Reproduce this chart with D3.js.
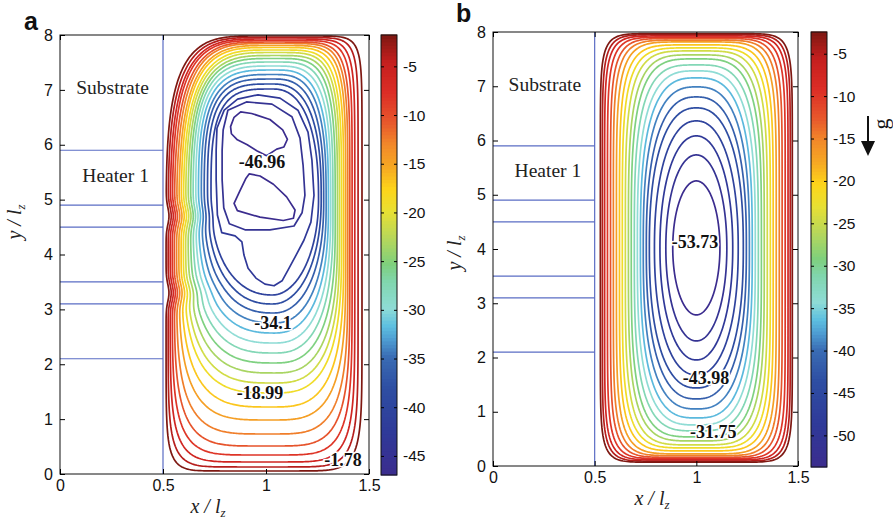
<!DOCTYPE html>
<html>
<head>
<meta charset="utf-8">
<script src="https://cdn.jsdelivr.net/npm/d3@7"></script>
<style>
  body { margin: 0; background: #fff; }
  svg { display: block; }
  .tick text { font-family: "Liberation Sans", Arial, sans-serif; fill: #111; }
</style>
</head>
<body>
<svg id="chart" width="893" height="531"></svg>
<script>
// ---------- data ----------
const xTicks = [0, 0.5, 1, 1.5];
const yTicks = [0, 1, 2, 3, 4, 5, 6, 7, 8];
const heaterEdges = [2.1, 3.1, 3.5, 4.5, 4.9, 5.9]; // y of the heater / substrate boundaries
const heaterGaps = [[3.1, 3.5], [4.5, 4.9]];
const regionNames = ["Substrate", "Heater 1"];
const regionX = [0.255, 0.27];
const regionY = [6.92, 5.32];

// panel a: 22 stream function levels
const aLevels = [-46.96, -44.81, -42.66, -40.51, -38.35, -36.2, -34.05, -31.9, -29.75, -27.6, -25.45,
  -23.29, -21.14, -18.99, -16.84, -14.69, -12.54, -10.39, -8.23, -6.08, -3.93, -1.78];
const aColorTicks = [-5, -10, -15, -20, -25, -30, -35, -40, -45];

// innermost contours of panel a, vertices in (x/lz, y/lz)
const aUpperLobe = [[0.828, 6.33], [0.845, 6.5], [0.877, 6.6], [0.93, 6.57], [1.019, 6.46], [1.081, 6.27],
  [1.104, 6.1], [1.087, 5.96], [1.052, 5.92], [1.003, 5.8], [0.955, 5.89], [0.909, 6.0], [0.861, 6.09], [0.832, 6.2]];
const aLowerLobe = [[0.919, 5.47], [0.971, 5.43], [1.036, 5.28], [1.1, 5.05], [1.141, 4.81], [1.133, 4.66],
  [1.084, 4.62], [0.971, 4.68], [0.861, 4.8], [0.845, 4.93], [0.871, 5.14], [0.903, 5.39]];
const aRing1 = [[0.792, 6.27], [0.815, 6.63], [0.905, 6.78], [1.029, 6.74], [1.126, 6.51], [1.165, 6.12],
  [1.18, 5.63], [1.189, 5.08], [1.175, 4.76], [1.136, 4.52], [1.019, 4.45], [0.898, 4.45], [0.822, 4.56],
  [0.795, 4.85], [0.787, 5.36], [0.787, 5.9]];
const aRing2 = [[0.762, 6.3], [0.797, 6.63], [0.862, 6.83], [0.961, 6.91], [1.068, 6.85], [1.155, 6.63],
  [1.204, 6.23], [1.223, 5.72], [1.233, 5.08], [1.218, 4.59], [1.184, 4.26], [1.146, 3.99], [1.112, 3.75],
  [1.078, 3.52], [1.039, 3.43], [0.995, 3.46], [0.951, 3.57], [0.913, 3.75], [0.893, 3.99], [0.883, 4.23],
  [0.85, 4.34], [0.785, 4.4], [0.764, 4.72], [0.758, 5.36], [0.758, 5.9]];

// outer contours of panel a (levels 3..21): extents and corner roundness
const aLeft = [0.733, 0.716, 0.7, 0.686, 0.672, 0.659, 0.646, 0.634, 0.622, 0.61, 0.599, 0.588, 0.577, 0.566, 0.555, 0.545, 0.535, 0.525, 0.515];
const aRight = [1.255, 1.268, 1.28, 1.292, 1.303, 1.314, 1.325, 1.336, 1.347, 1.357, 1.367, 1.377, 1.387, 1.397, 1.407, 1.418, 1.431, 1.447, 1.466];
const aTop = [7.016, 7.107, 7.198, 7.28, 7.362, 7.435, 7.508, 7.572, 7.626, 7.681, 7.727, 7.772, 7.809, 7.845, 7.872, 7.9, 7.927, 7.954, 7.982];
const aBottom = [3.262, 3.098, 2.934, 2.752, 2.569, 2.387, 2.205, 2.023, 1.841, 1.658, 1.476, 1.221, 0.984, 0.729, 0.51, 0.346, 0.219, 0.128, 0.055];
const aMid = [5.0, 5.0, 4.95, 4.9, 4.85, 4.8, 4.7, 4.6, 4.5, 4.4, 4.3, 4.2, 4.1, 4.0, 4.0, 4.0, 4.0, 4.0, 4.0];
const aCx = [1.03, 1.03, 1.035, 1.04, 1.04, 1.04, 1.04, 1.04, 1.04, 1.035, 1.03, 1.025, 1.02, 1.015, 1.01, 1.005, 1.0, 0.995, 0.99];
const aRoundTL = [3.5, 3.5, 3.5, 3.5, 3.5, 3.5, 3.5, 3.5, 3.5, 3.5, 3.5, 3.6, 3.6, 3.7, 3.7, 3.8, 3.8, 3.9, 4.0];
const aRoundTR = [2.4, 2.6, 2.8, 3.0, 3.2, 3.5, 3.8, 4.1, 4.4, 4.7, 5.0, 5.5, 6, 6.5, 7, 8, 9, 10.5, 12];
const aRoundBL = [2.2, 2.3, 2.4, 2.5, 2.6, 2.7, 2.8, 2.9, 3.0, 3.1, 3.2, 3.4, 3.7, 4.1, 4.6, 5.3, 6.3, 7.8, 10];
const aRoundBR = [2.0, 2.1, 2.2, 2.3, 2.4, 2.5, 2.6, 2.7, 2.8, 2.9, 3.0, 3.2, 3.5, 3.9, 4.4, 5.1, 6.0, 7, 8];
const aDent = [0.006, 0.007, 0.008, 0.009, 0.01, 0.011, 0.012, 0.013, 0.014, 0.015, 0.015, 0.015, 0.015, 0.015, 0.015, 0.015, 0.015, 0.015, 0.014];

const aLabelText = ["-46.96", "-34.1", "-18.99", "-1.78"];
const aLabelX = [0.981, 1.034, 0.971, 1.374];
const aLabelY = [5.7, 2.75, 1.49, 0.255];

// panel b: 22 levels, nearly elliptic cells around (1.0, 4.02)
const bLevels = [-53.73, -51.29, -48.85, -46.4, -43.96, -41.52, -39.08, -36.63, -34.19, -31.75, -29.31,
  -26.86, -24.42, -21.98, -19.54, -17.1, -14.66, -12.21, -9.77, -7.33, -4.89, -2.44];
const bColorTicks = [-5, -10, -15, -20, -25, -30, -35, -40, -45, -50];
const bCenter = [1.0, 4.02];
const bHalfW = [0.116, 0.15, 0.179, 0.206, 0.231, 0.246, 0.261, 0.275, 0.29, 0.305, 0.32, 0.334, 0.349, 0.364, 0.378, 0.393, 0.408, 0.422, 0.437, 0.451, 0.462, 0.472];
const bHalfH = [1.235, 1.714, 2.065, 2.341, 2.581, 2.783, 2.968, 3.134, 3.263, 3.373, 3.484, 3.558, 3.631, 3.687, 3.742, 3.797, 3.83, 3.86, 3.885, 3.908, 3.93, 3.95];
const bRound = [2.0, 2.05, 2.1, 2.2, 2.35, 2.5, 2.7, 2.9, 3.1, 3.4, 3.7, 4.0, 4.4, 4.8, 5.3, 5.8, 6.4, 7.0, 7.8, 8.6, 9.5, 10.5];

const bLabelText = ["-53.73", "-43.98", "-31.75"];
const bLabelX = [0.994, 1.048, 1.083];
const bLabelY = [4.13, 1.62, 0.627];

// ---------- drawing ----------
const svg = d3.select("#chart");
const serif = "'Liberation Serif', 'Times New Roman', serif";
const sans = "'Liberation Sans', Arial, sans-serif";
const heaterColor = "#5a6cc4";

const jet = d3.scaleLinear()
  .domain([0, 0.1, 0.2, 0.27, 0.31, 0.34, 0.38, 0.44, 0.48, 0.54, 0.6, 0.65, 0.7, 0.75, 0.8, 0.87, 0.94, 1])
  .range(["#3b2c8e", "#2f3a99", "#2e4fa3", "#3a6db4", "#4f9fd3", "#5ec0e0", "#8fdcd6", "#80d6ae", "#7fd07c",
    "#b8d75a", "#e8e033", "#fdd51a", "#f6a823", "#f28a2a", "#e8592c", "#dc2d26", "#c41f1e", "#7e1812"]);

const bump = (y) => d3.sum(heaterGaps, (g) => {
  const c = (g[0] + g[1]) / 2;
  return Math.exp(-Math.pow((y - c) / 0.22, 2));
});

// closed rounded ring through (L,M) (cx,T) (R,M) (cx,B), one roundness per quadrant
const ring = (r) => {
  const pts = [];
  const N = 480;
  for (let i = 0; i < N; i++) {
    const phi = (i / N) * 2 * Math.PI;
    const c = Math.cos(phi), s = Math.sin(phi);
    const right = c >= 0, up = s >= 0;
    const n = up ? (right ? r.nTR : r.nTL) : (right ? r.nBR : r.nBL);
    const rad = Math.pow(Math.pow(Math.abs(c), n) + Math.pow(Math.abs(s), n), -1 / n);
    const X = rad * Math.abs(c), Y = rad * Math.abs(s);
    let x = right ? r.cx + (r.R - r.cx) * X : r.cx - (r.cx - r.L) * X;
    const y = up ? r.M + (r.T - r.M) * Y : r.M - (r.M - r.B) * Y;
    if (!right && r.dent) x += r.dent * Math.pow(X, 4) * bump(y);
    pts.push([x, y]);
  }
  return pts;
};

const drawPanel = (p) => {
  const g = svg.append("g");
  const x = d3.scaleLinear().domain([0, 1.5]).range([p.left, p.right]);
  const y = d3.scaleLinear().domain([0, 8]).range([p.bottom, p.top]);
  const lo = d3.min(p.levels), hi = d3.max(p.levels);
  const color = (v) => jet((v - lo) / (hi - lo));
  const line = d3.line().x((d) => x(d[0])).y((d) => y(d[1])).curve(d3.curveLinearClosed);

  // heater / substrate layout
  g.selectAll(".heater").data(heaterEdges).join("line")
    .attr("x1", x(0)).attr("x2", x(0.5))
    .attr("y1", (d) => y(d)).attr("y2", (d) => y(d))
    .attr("stroke", heaterColor).attr("stroke-width", 1.2);
  g.append("line")
    .attr("x1", x(0.5)).attr("x2", x(0.5)).attr("y1", y(0)).attr("y2", y(8))
    .attr("stroke", heaterColor).attr("stroke-width", 1.2);

  g.selectAll(".region").data(regionNames).join("text")
    .attr("x", (d, i) => x(regionX[i])).attr("y", (d, i) => y(regionY[i]))
    .attr("text-anchor", "middle")
    .attr("font-family", serif).attr("font-size", 19.5).attr("fill", "#222").text((d) => d);

  // contours
  g.selectAll(".contour").data(p.rings).join("path")
    .attr("d", (d) => line(d.pts))
    .attr("fill", "none")
    .attr("stroke", (d) => color(d.level))
    .attr("stroke-width", 1.7)
    .attr("stroke-linejoin", "round");

  // inline contour labels
  g.selectAll(".clabel").data(p.labels).join("text")
    .attr("x", (d) => x(d.x)).attr("y", (d) => y(d.y))
    .attr("dy", "0.35em").attr("text-anchor", "middle")
    .attr("font-family", serif).attr("font-weight", "bold").attr("font-size", 18)
    .attr("fill", "#111").attr("stroke", "#fff").attr("stroke-width", 3)
    .attr("paint-order", "stroke").text((d) => d.text);

  // box and inward ticks
  g.append("rect").attr("x", p.left).attr("y", p.top)
    .attr("width", p.right - p.left).attr("height", p.bottom - p.top)
    .attr("fill", "none").attr("stroke", "#111").attr("stroke-width", 1);
  const ax = (axis, tx, ty, size) => g.append("g").attr("transform", `translate(${tx},${ty})`).call(axis)
    .call((s) => s.select(".domain").remove())
    .call((s) => s.selectAll("text").attr("font-size", size || 16));
  const plain = (d) => String(d);
  ax(d3.axisBottom(x).tickValues(xTicks).tickSize(-5).tickPadding(6).tickFormat(plain), 0, p.bottom);
  ax(d3.axisTop(x).tickValues(xTicks).tickSize(-5).tickFormat(""), 0, p.top);
  ax(d3.axisLeft(y).tickValues(yTicks).tickSize(-5).tickPadding(7).tickFormat(plain), p.left, 0);
  ax(d3.axisRight(y).tickValues(yTicks).tickSize(-5).tickFormat(""), p.right, 0);

  // axis titles
  g.append("text").attr("x", p.xTitle[0]).attr("y", p.xTitle[1]).attr("text-anchor", "middle")
    .attr("font-family", serif).attr("font-style", "italic").attr("font-size", 20).attr("fill", "#222")
    .call((t) => { t.append("tspan").text("x / l"); t.append("tspan").attr("dy", 4).attr("font-size", 13).text("z"); });
  g.append("text").attr("transform", `translate(${p.yTitle[0]},${p.yTitle[1]}) rotate(-90)`)
    .attr("text-anchor", "middle")
    .attr("font-family", serif).attr("font-style", "italic").attr("font-size", 20).attr("fill", "#222")
    .call((t) => { t.append("tspan").text("y / l"); t.append("tspan").attr("dy", 4).attr("font-size", 13).text("z"); });

  g.append("text").attr("x", p.letter[0]).attr("y", p.letter[1])
    .attr("font-family", sans).attr("font-weight", "bold").attr("font-size", 25).attr("fill", "#111").text(p.name);

  // colour bar
  const cb = p.bar;
  const cy = d3.scaleLinear().domain([lo, hi]).range([cb.bottom, cb.top]);
  const steps = d3.range(128).map((i) => lo + ((hi - lo) * i) / 128);
  const h = (cb.bottom - cb.top) / 128;
  g.selectAll(".cbar").data(steps).join("rect")
    .attr("x", cb.left).attr("width", cb.right - cb.left)
    .attr("y", (d) => cy(d) - h - 0.5).attr("height", h + 1)
    .attr("fill", (d) => jet((d + (hi - lo) / 256 - lo) / (hi - lo)));
  g.append("rect").attr("x", cb.left).attr("y", cb.top)
    .attr("width", cb.right - cb.left).attr("height", cb.bottom - cb.top)
    .attr("fill", "none").attr("stroke", "#111").attr("stroke-width", 1);
  ax(d3.axisRight(cy).tickValues(p.colorTicks).tickSize(-3).tickPadding(6).tickFormat(plain), cb.right, 0, 15.5);
  ax(d3.axisLeft(cy).tickValues(p.colorTicks).tickSize(-3).tickFormat(""), cb.left, 0);
  return g;
};

// ---- panel a rings ----
const aRings = [
  { level: aLevels[0], pts: aUpperLobe },
  { level: aLevels[0], pts: aLowerLobe },
  { level: aLevels[1], pts: aRing1 },
  { level: aLevels[2], pts: aRing2 },
].concat(aLeft.map((L, i) => ({
  level: aLevels[i + 3],
  pts: ring({
    L, R: aRight[i], T: aTop[i], B: aBottom[i], M: aMid[i], cx: aCx[i],
    nTL: aRoundTL[i], nTR: aRoundTR[i], nBL: aRoundBL[i], nBR: aRoundBR[i], dent: aDent[i],
  }),
})));

const bRings = bHalfW.map((w, i) => ({
  level: bLevels[i],
  pts: ring({
    L: bCenter[0] - w, R: bCenter[0] + w, T: bCenter[1] + bHalfH[i], B: bCenter[1] - bHalfH[i],
    M: bCenter[1], cx: bCenter[0], nTL: bRound[i], nTR: bRound[i], nBL: bRound[i], nBR: bRound[i], dent: 0,
  }),
}));

drawPanel({
  name: "a", left: 60, right: 369, top: 35, bottom: 474,
  levels: aLevels, rings: aRings, colorTicks: aColorTicks,
  labels: aLabelText.map((t, i) => ({ text: t, x: aLabelX[i], y: aLabelY[i] })),
  bar: { left: 381, right: 397, top: 35, bottom: 475 },
  xTitle: [208, 513], yTitle: [21, 222], letter: [24, 30],
});

const gb = drawPanel({
  name: "b", left: 493, right: 798, top: 32, bottom: 466,
  levels: bLevels, rings: bRings, colorTicks: bColorTicks,
  labels: bLabelText.map((t, i) => ({ text: t, x: bLabelX[i], y: bLabelY[i] })),
  bar: { left: 811, right: 827, top: 32, bottom: 467 },
  xTitle: [652, 505], yTitle: [461, 253], letter: [456, 22],
});

// gravity arrow
gb.append("line").attr("x1", 868).attr("x2", 868).attr("y1", 116).attr("y2", 145)
  .attr("stroke", "#111").attr("stroke-width", 2);
gb.append("path").attr("d", "M861,141 L875,141 L868,156 Z").attr("fill", "#111");
gb.append("text").attr("transform", "translate(888,124) rotate(-90)").attr("text-anchor", "middle")
  .attr("font-family", serif).attr("font-size", 22).attr("fill", "#111").text("g");
</script>
</body>
</html>
